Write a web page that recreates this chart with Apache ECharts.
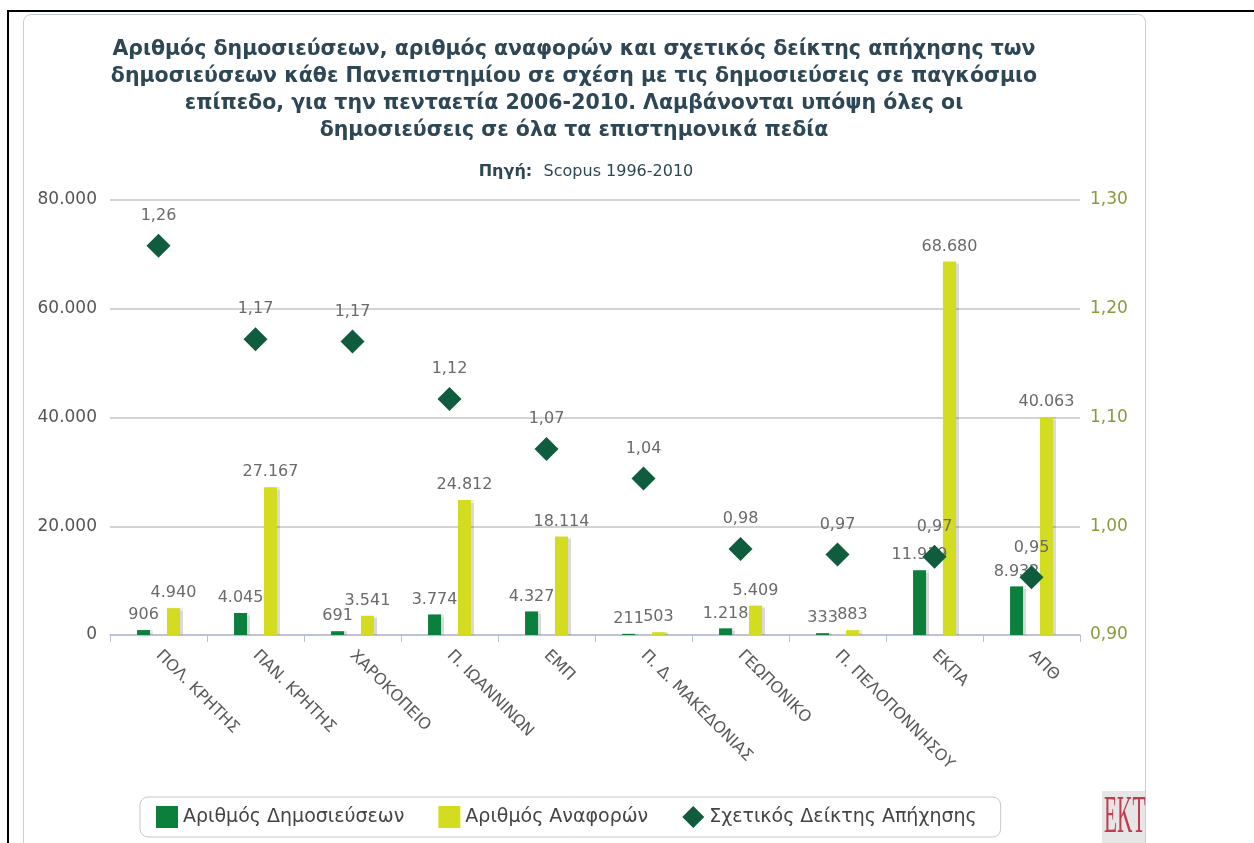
<!DOCTYPE html>
<html>
<head>
<meta charset="utf-8">
<script src="https://cdn.jsdelivr.net/npm/echarts@6/dist/echarts.min.js"></script>
<style>
html,body{margin:0;padding:0;background:#fff;overflow:hidden;}
#frame{position:absolute;left:7px;top:10px;width:1260px;height:900px;border-top:2px solid #000;border-left:2px solid #000;}
#panel{position:absolute;left:23px;top:14px;width:1121px;height:900px;border:1px solid #c5ceda;border-radius:8px;background:#fff;}
#chart{position:absolute;left:0;top:0;width:1254px;height:843px;}
</style>
</head>
<body>
<div id="frame"></div>
<div id="panel"></div>
<div id="chart"></div>
<script>
const categories = ['ΠΟΛ. ΚΡΗΤΗΣ','ΠΑΝ. ΚΡΗΤΗΣ','ΧΑΡΟΚΟΠΕΙΟ','Π. ΙΩΑΝΝΙΝΩΝ','ΕΜΠ','Π. Δ. ΜΑΚΕΔΟΝΙΑΣ','ΓΕΩΠΟΝΙΚΟ','Π. ΠΕΛΟΠΟΝΝΗΣΟΥ','ΕΚΠΑ','ΑΠΘ'];
const publications = [906, 4045, 691, 3774, 4327, 211, 1218, 333, 11919, 8932];
const citations = [4940, 27167, 3541, 24812, 18114, 503, 5409, 883, 68680, 40063];
const impactIndex = [1.258, 1.172, 1.170, 1.117, 1.071, 1.044, 0.979, 0.974, 0.972, 0.953];
const leftTicks = [0, 20000, 40000, 60000, 80000];
const rightTicks = [0.9, 1.0, 1.1, 1.2, 1.3];
const seriesNames = ['Αριθμός Δημοσιεύσεων', 'Αριθμός Αναφορών', 'Σχετικός Δείκτης Απήχησης'];

function thousands(v){ return String(Math.round(v)).replace(/\B(?=(\d{3})+(?!\d))/g, '.'); }
function decimal2(v){ return Number(v).toFixed(2).replace('.', ','); }

const chart = echarts.init(document.getElementById('chart'), null, {renderer:'canvas'});
const FONT = 'DejaVu Sans';
chart.setOption({
  backgroundColor: 'transparent',
  textStyle: {fontFamily: FONT},
  title: [{
    text: 'Αριθμός δημοσιεύσεων, αριθμός αναφορών και σχετικός δείκτης απήχησης των\nδημοσιεύσεων κάθε Πανεπιστημίου σε σχέση με τις δημοσιεύσεις σε παγκόσμιο\nεπίπεδο, για την πενταετία 2006-2010. Λαμβάνονται υπόψη όλες οι\nδημοσιεύσεις σε όλα τα επιστημονικά πεδία',
    left: 569, top: 31, textAlign: 'center',
    textStyle: {fontFamily: FONT, fontSize: 20.5, fontWeight: 'bold', color: '#2e4756', lineHeight: 27}
  }, {
    text: '{b|Πηγή:}  {n|Scopus 1996-2010}',
    left: 581, top: 158, textAlign: 'center',
    textStyle: {fontWeight: 'normal', rich: {
      b: {fontFamily: FONT, fontSize: 16, fontWeight: 'bold', color: '#2e4756'},
      n: {fontFamily: FONT, fontSize: 16, fontWeight: 'normal', color: '#2e4756'}
    }}
  }],
  legend: {
    data: [
      {name: seriesNames[0], icon: 'rect'},
      {name: seriesNames[1], icon: 'rect'},
      {name: seriesNames[2], icon: 'diamond', itemStyle: {color: '#0f5c3e'}}
    ],
    left: 140, top: 797,
    itemWidth: 22, itemHeight: 22, itemGap: 34,
    padding: [9, 24, 9, 16],
    borderColor: '#c8c8c8', borderWidth: 1, borderRadius: 8,
    textStyle: {fontFamily: FONT, fontSize: 19, color: '#444'}
  },
  grid: {left: 110, right: 174, top: 200, bottom: 208},
  xAxis: {
    type: 'category', data: categories,
    axisLine: {lineStyle: {color: '#b8bfd6', width: 1.5}},
    axisTick: {show: true, length: 7, lineStyle: {color: '#b8bfd6'}},
    axisLabel: {rotate: -45, fontFamily: FONT, fontSize: 16, color: '#5a5a5a', margin: 18}
  },
  yAxis: [{
    type: 'value', min: leftTicks[0], max: leftTicks[leftTicks.length-1], interval: leftTicks[1]-leftTicks[0],
    axisLine: {show: false}, axisTick: {show: false},
    splitLine: {lineStyle: {color: '#c4c4c4', width: 1.5}},
    axisLabel: {formatter: thousands, fontFamily: FONT, fontSize: 17, color: '#555', margin: 13}
  }, {
    type: 'value', min: rightTicks[0], max: rightTicks[rightTicks.length-1], interval: 0.1,
    axisLine: {show: false}, axisTick: {show: false}, splitLine: {show: false},
    axisLabel: {formatter: decimal2, fontFamily: FONT, fontSize: 17, color: '#8c9a3c', margin: 10}
  }],
  series: [{
    name: seriesNames[0], type: 'bar', data: publications, barWidth: 13, barGap: '130%',
    itemStyle: {color: '#0b7f3c', shadowColor: 'rgba(0,0,0,0.15)', shadowOffsetX: 3, shadowBlur: 1},
    label: {show: true, position: 'top', distance: 7, formatter: p => thousands(p.value), fontFamily: FONT, fontSize: 16, color: '#6a6a6a'}
  }, {
    name: seriesNames[1], type: 'bar', data: citations, barWidth: 13,
    itemStyle: {color: '#d3dc1f', shadowColor: 'rgba(0,0,0,0.15)', shadowOffsetX: 3, shadowBlur: 1},
    label: {show: true, position: 'top', distance: 7, formatter: p => thousands(p.value), fontFamily: FONT, fontSize: 16, color: '#6a6a6a'}
  }, {
    name: seriesNames[2], type: 'scatter', yAxisIndex: 1, data: impactIndex,
    symbol: 'diamond', symbolSize: 24, z: 5,
    itemStyle: {color: '#0f5c3e', opacity: 1},
    label: {show: true, position: 'top', distance: 10, formatter: p => decimal2(p.value), fontFamily: FONT, fontSize: 16, color: '#6a6a6a'}
  }],
  graphic: [{
    type: 'group', left: 1102, top: 791,
    children: [{
      type: 'rect', shape: {x: 0, y: 0, width: 43, height: 52}, style: {fill: '#e6e6e6'}
    }, {
      type: 'text', x: 2, y: 1, scaleX: 0.41,
      style: {text: 'EKT', fontFamily: 'Liberation Serif', fontSize: 52, fill: '#c23b4e'}
    }]
  }]
});
</script>
</body>
</html>
